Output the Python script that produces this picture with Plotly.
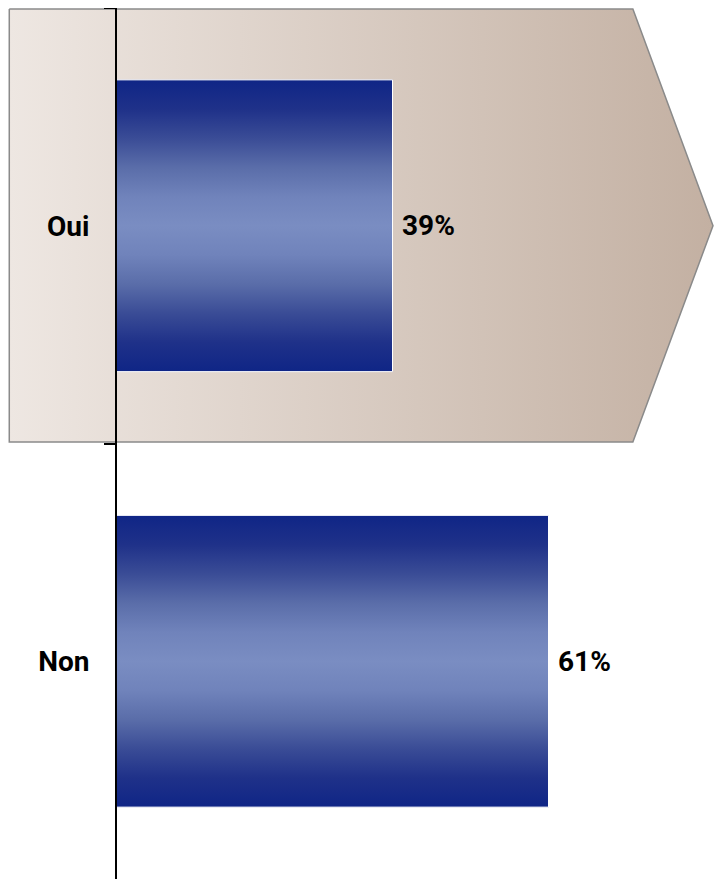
import plotly.graph_objects as go

# ---- data ----
categories = ["Oui", "Non"]
values = [39, 61]
value_labels = ["39%", "61%"]

# ---- styles ----
BAR_SCALE = [
    [0.0, "#0f2586"], [0.1, "#1f3189"], [0.2, "#3a4c96"], [0.3, "#5a6da9"],
    [0.4, "#7083bb"], [0.5, "#7a8dc2"], [0.6, "#7083bb"], [0.7, "#5a6da9"],
    [0.8, "#3a4c96"], [0.9, "#1f3189"], [1.0, "#0f2586"],
]
ARROW_SCALE = [[0.0, "#eee7e2"], [1.0, "#c3b0a2"]]
FONT = dict(family="Roboto, Liberation Sans, Arial", size=28, color="black",
            weight="bold")
HALF = 0.335  # half bar thickness in category units

fig = go.Figure()

# background arrow (decoration) spanning the first category band
ax = [-15.05, 72.9, 84.2, 72.9, -15.05, -15.05]
ay = [-0.4975, -0.4975, 0.0, 0.4966, 0.4966, -0.4975]
fig.add_trace(go.Scatter(
    x=ax, y=ay, mode="lines", fill="toself",
    fillgradient=dict(type="horizontal", colorscale=ARROW_SCALE),
    line=dict(color="#8a8a8a", width=1.5),
    hoverinfo="skip", showlegend=False,
))

# bars with vertical gradient
for i, v in enumerate(values):
    fig.add_trace(go.Scatter(
        x=[0, v, v, 0, 0],
        y=[i - HALF, i - HALF, i + HALF, i + HALF, i - HALF],
        mode="lines", fill="toself",
        fillgradient=dict(type="vertical", colorscale=BAR_SCALE),
        line=dict(color="white", width=1),
        name=categories[i], showlegend=False, hoverinfo="skip",
    ))

# value labels
for i, (v, t) in enumerate(zip(values, value_labels)):
    fig.add_annotation(x=v, y=i, text=t, showarrow=False,
                       xanchor="left", yanchor="middle", xshift=7,
                       font=FONT)

# the page body adds an 8px margin, so the figure is offset accordingly
fig.update_layout(
    width=714, height=871,
    margin=dict(l=0, r=0, t=0, b=0),
    paper_bgcolor="white", plot_bgcolor="rgba(0,0,0,0)",
    showlegend=False,
    xaxis=dict(range=[-15.23, 85.47], visible=False, domain=[0, 1]),
    yaxis=dict(
        range=[1.5, -0.5], anchor="free", position=108 / 714,
        showline=True, linecolor="black", linewidth=2,
        tickmode="array", tickvals=list(range(len(categories))),
        ticktext=categories, ticks="", showgrid=False, zeroline=False,
        tickfont=FONT, ticklabelstandoff=20,
        minor=dict(tickmode="array", tickvals=[-0.5, 0.5], ticks="outside",
                   ticklen=11, tickwidth=2, tickcolor="black", showgrid=False),
    ),
)

fig.write_html("out.html")
